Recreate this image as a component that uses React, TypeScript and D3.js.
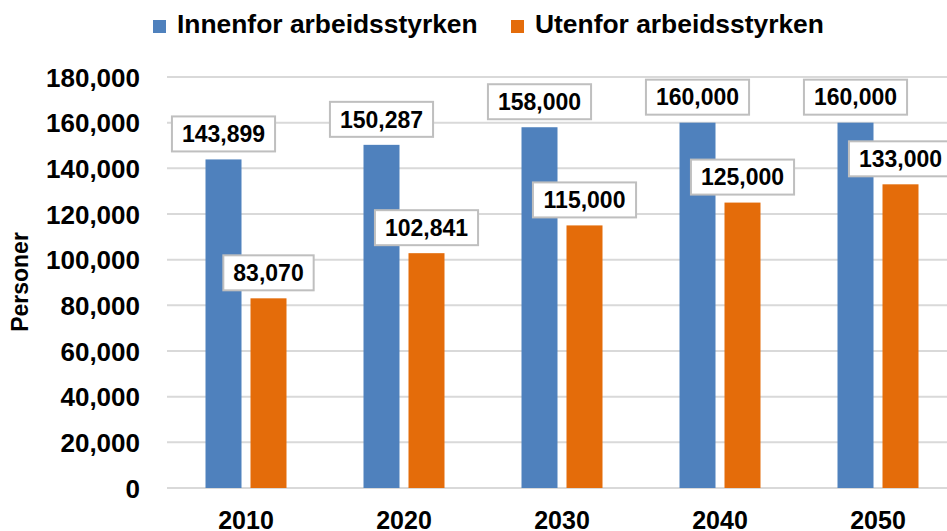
import * as d3 from "d3";

// values
const years = ["2010", "2020", "2030", "2040", "2050"];
const seriesNames = ["Innenfor arbeidsstyrken", "Utenfor arbeidsstyrken"];
const innenfor = [143899, 150287, 158000, 160000, 160000];
const utenfor = [83070, 102841, 115000, 125000, 133000];
const yTicks = [0, 20000, 40000, 60000, 80000, 100000, 120000, 140000, 160000, 180000];
const colors = ["#4F81BD", "#E46C0A"];

const W = 947;
const H = 531;
const font = "'Liberation Sans', Arial, sans-serif";

// rough text width for bold Arial digits
const textWidth = (s: string, size: number) =>
    s.split("").reduce((acc, c) => acc + (c === "," ? 0.278 : 0.556), 0) * size;

export default function App() {
    const x = d3.scaleBand<string>().domain(years).range([167, 957]);
    const xs = d3.scaleBand<string>().domain(seriesNames).range([-40.5, 40.5]).paddingInner(0.2);
    const y = d3.scaleLinear().domain([0, 180000]).range([488, 77]);
    const fmt = d3.format(",");

    const rows = years.map((yr, i) => ({ year: yr, values: [innenfor[i], utenfor[i]] }));
    const labelSize = 23;

    return (
        <svg width={W} height={H} style={{ position: "absolute", left: 0, top: 0 }} fontFamily={font} fontWeight="bold">
            <rect width={W} height={H} fill="#fff" />

            {/* legend */}
            {seriesNames.map((s, i) => {
                const lx = i === 0 ? 153 : 511;
                return (
                    <g key={s}>
                        <rect x={lx} y={20} width={13} height={13} fill={colors[i]} />
                        <text x={lx + 24} y={32.5} fontSize={26.4} fill="#000">{s}</text>
                    </g>
                );
            })}

            {/* gridlines + y ticks */}
            {yTicks.map(t => (
                <g key={t}>
                    <line x1={167} x2={W} y1={y(t)} y2={y(t)} stroke="#D9D9D9" strokeWidth={2} />
                    <text x={140} y={y(t) + 9.5} textAnchor="end" fontSize={26} fill="#000">{fmt(t)}</text>
                </g>
            ))}

            <text transform={`translate(28,282) rotate(-90)`} textAnchor="middle" fontSize={23} fill="#000">Personer</text>

            {/* bars */}
            {rows.map(r => (
                <g key={r.year} transform={`translate(${x(r.year)! + x.bandwidth() / 2},0)`}>
                    {r.values.map((v, i) => (
                        <rect key={i} x={xs(seriesNames[i])!} y={y(v)} width={xs.bandwidth()}
                            height={y(0) - y(v)} fill={colors[i]} />
                    ))}
                </g>
            ))}

            {/* data labels */}
            {rows.map(r => (
                <g key={r.year} transform={`translate(${x(r.year)! + x.bandwidth() / 2},0)`}>
                    {r.values.map((v, i) => {
                        const cx = xs(seriesNames[i])! + xs.bandwidth() / 2;
                        const label = fmt(v);
                        const bw = textWidth(label, labelSize) + 20;
                        const bh = 35;
                        const by = y(v) - 8 - bh;
                        return (
                            <g key={i}>
                                <rect x={cx - bw / 2} y={by} width={bw} height={bh} fill="#fff" stroke="#BFBFBF" strokeWidth={2} />
                                <text x={cx} y={by + bh / 2 + 8.3} textAnchor="middle" fontSize={labelSize} fill="#000">{label}</text>
                            </g>
                        );
                    })}
                </g>
            ))}

            {/* x labels */}
            {years.map(yr => (
                <text key={yr} x={x(yr)! + x.bandwidth() / 2} y={529} textAnchor="middle" fontSize={25} fill="#000">{yr}</text>
            ))}
        </svg>
    );
}
